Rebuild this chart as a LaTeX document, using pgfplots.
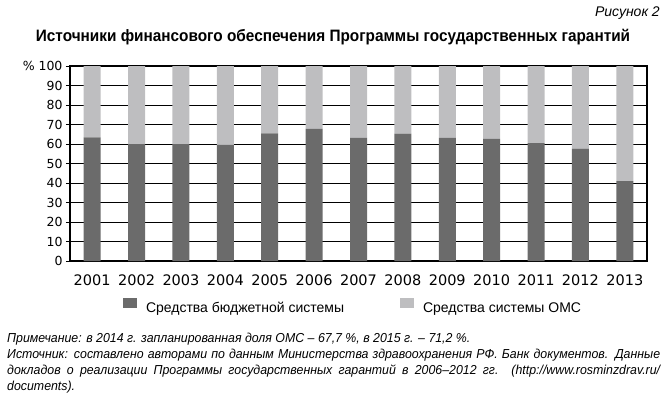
\documentclass[border=0pt]{standalone}
\usepackage{fontspec}
\setmainfont{Liberation Sans}
\newfontfamily\dejavu{DejaVu Sans}
\newfontfamily\narrow[FakeStretch=0.93]{Liberation Sans}
\newfontfamily\notefont[FakeStretch=0.95]{Liberation Sans}
\usepackage{pgfplots}
\pgfplotsset{compat=1.18}

\definecolor{budget}{RGB}{107,107,107}
\definecolor{oms}{RGB}{190,190,192}

\begin{document}
\begin{tikzpicture}[x=1pt,y=1pt]
\path[use as bounding box] (0,0) rectangle (665,400);

% header
\node[anchor=base east, inner sep=0pt, font=\fontsize{14}{16}\selectfont\itshape] at (660,383) {Рисунок 2};
\node[anchor=base, inner sep=0pt, font=\fontsize{16.5}{19}\selectfont\narrow\bfseries] at (333,358)
  {Источники финансового обеспечения Программы государственных гарантий};

\begin{axis}[
    at={(70pt,139pt)}, anchor=south west,
    scale only axis,
    width=577pt, height=195pt,
    ybar stacked, bar width=17pt,
    xmin=-0.5, xmax=12.5,
    ymin=0, ymax=100,
    xtick={0,...,12},
    xticklabels={2001,2002,2003,2004,2005,2006,2007,2008,2009,2010,2011,2012,2013},
    ytick={0,10,...,100},
    yticklabels={0,10,20,30,40,50,60,70,80,90,{\% 100}},
    xtick style={draw=none},
    ytick pos=left,
    tick align=outside,
    major tick length=4pt,
    ytick style={black, line width=0.8pt},
    ymajorgrids,
    grid style={black, line width=0.8pt},
    axis line style={black, line width=1.3pt},
    /pgf/number format/assume math mode=true,
    xticklabel style={font=\fontsize{14.5}{16}\selectfont\dejavu, yshift=-6pt},
    yticklabel style={font=\fontsize{12.5}{14}\selectfont\dejavu},
    legend style={at={(0.0919,-0.2308)}, anchor=west, draw=none, fill=none,
        inner sep=0pt, outer sep=0pt, legend columns=2,
        nodes={inner sep=0pt, font=\fontsize{14}{16}\selectfont},
        /tikz/every odd column/.append style={column sep=9pt},
        /tikz/every even column/.append style={column sep=0pt}},
    legend image code/.code={\fill[#1] (0pt,0pt) rectangle (14pt,10pt);},
]
\addplot[fill=budget, draw=none] coordinates {
  (0,63.4) (1,60.0) (2,60.0) (3,59.6) (4,65.5) (5,67.7) (6,63.2)
  (7,65.3) (8,63.2) (9,62.6) (10,60.5) (11,57.6) (12,40.9)
};
\addplot[fill=oms, draw=none] coordinates {
  (0,36.6) (1,40.0) (2,40.0) (3,40.4) (4,34.5) (5,32.3) (6,36.8)
  (7,34.7) (8,36.8) (9,37.4) (10,39.5) (11,42.4) (12,59.1)
};
\legend{\makebox[254pt][l]{Средства бюджетной системы},Средства системы ОМС}
\end{axis}

% notes
\begin{scope}[every node/.style={anchor=base west, inner sep=0pt, font=\fontsize{13}{15}\selectfont\notefont\itshape}]
\node at (7,58) {Примечание: в 2014 г. запланированная доля ОМС – 67,7 \%, в 2015 г. – 71,2 \%.};
\node at (7,42) {\makebox[653pt][s]{Источник: составлено авторами по данным Министерства здравоохранения РФ. Банк документов. Данные}};
\node at (7,26) {\makebox[653pt][s]{докладов о реализации Программы государственных гарантий в 2006–2012 гг. (http://www.rosminzdrav.ru/}};
\node at (7,10) {documents).};
\end{scope}
\end{tikzpicture}
\end{document}
